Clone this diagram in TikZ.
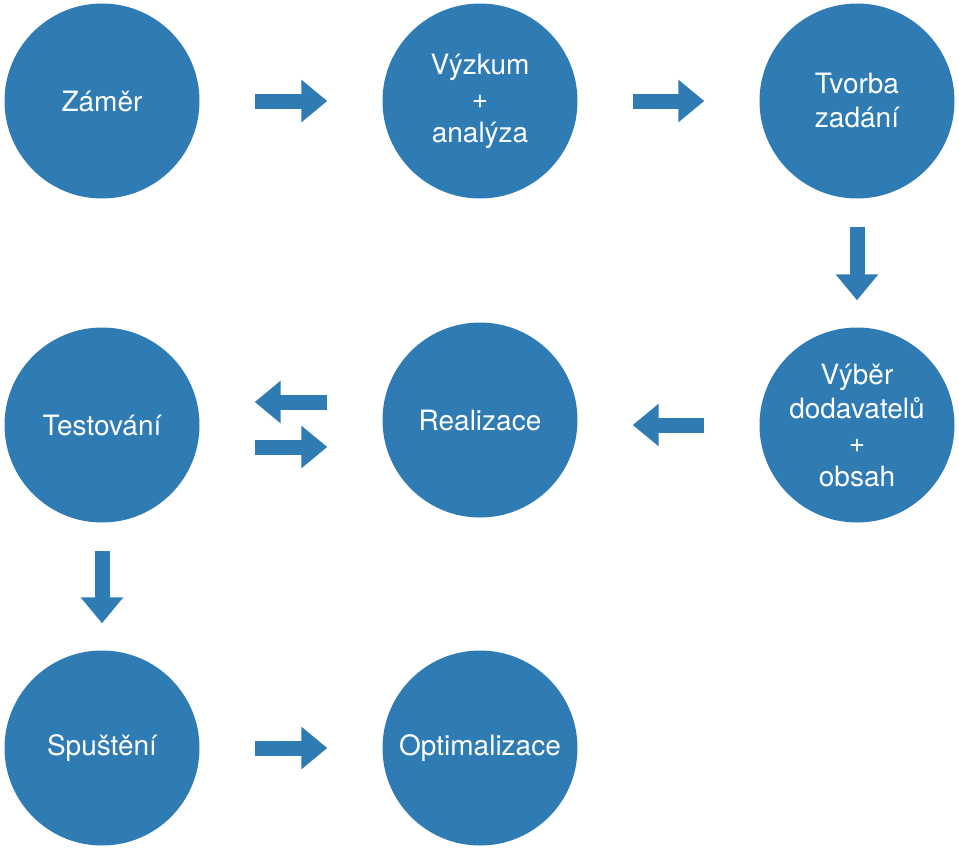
\documentclass[tikz,border=0pt]{standalone}
\usepackage{fontspec}
\setmainfont{TeX Gyre Heros}
\usetikzlibrary{arrows.meta}
\definecolor{kruh}{RGB}{47,123,180}

\begin{document}
\begin{tikzpicture}[x=1pt, y=-1pt,
    krok/.style={circle, fill=kruh, minimum size=195pt, inner sep=0pt,
      text=white, align=center, font=\fontsize{28}{34}\selectfont},
    sipka/.style={draw=kruh, line width=15pt, -{Triangle[width=41pt,length=26pt]},
      shorten <=55pt, shorten >=55pt},
    sipkadolu/.style={sipka, shorten <=28pt, shorten >=27pt}]
    \useasboundingbox (0,0) rectangle (959,852);

    \node[krok] (Z) at (102,101) {Záměr};
    \node[krok] (V) at (480,101) {Výzkum\\+\\analýza};
    \node[krok] (T) at (857,101) {Tvorba\\zadání};
    \node[krok] (D) at (857,425) {Výběr\\dodavatelů\\+\\obsah};
    \node[krok] (R) at (480,420) {Realizace};
    \node[krok] (E) at (102,425) {Testování};
    \node[krok] (S) at (102,748) {Spuštění};
    \node[krok] (O) at (480,748) {Optimalizace};

    \draw[sipka] (Z) -- (V);
    \draw[sipka] (V) -- (T);
    \draw[sipkadolu] (T) -- (D);
    \draw[sipka] (D.west) -- (R.east |- D.west);

    %tam a zpet
    \draw[sipka] (R.west |- 0,402) -- (E.east |- 0,402);
    \draw[sipka] (E.east |- 0,447) -- (R.west |- 0,447);

    \draw[sipkadolu] (E) -- (S);
    \draw[sipka] (S) -- (O);
  \end{tikzpicture}
\end{document}
